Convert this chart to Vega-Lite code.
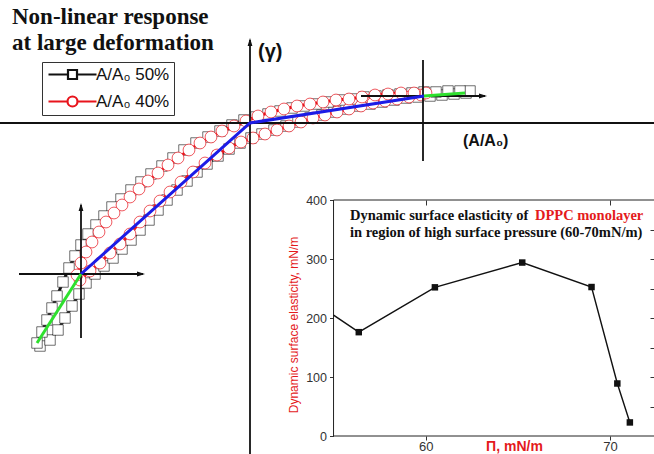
{
"$schema":"https://vega.github.io/schema/vega-lite/v6.json",
"width":654,"height":454,"padding":0,"autosize":{"type":"none"},
"background":"white",
"config":{"view":{"stroke":null},"axis":{"grid":false}},
"datasets":{
"loop":[
{"series":"50%","i":0,"x":-2.10,"y":-2.23},{"series":"50%","i":1,"x":-2.00,"y":-2.17},{"series":"50%","i":2,"x":-1.92,"y":-2.07},{"series":"50%","i":3,"x":-1.85,"y":-1.95},{"series":"50%","i":4,"x":-1.78,"y":-1.83},{"series":"50%","i":5,"x":-1.71,"y":-1.71},{"series":"50%","i":6,"x":-1.64,"y":-1.60},{"series":"50%","i":7,"x":-1.55,"y":-1.51},{"series":"50%","i":8,"x":-1.46,"y":-1.43},{"series":"50%","i":9,"x":-1.37,"y":-1.35},{"series":"50%","i":10,"x":-1.28,"y":-1.26},{"series":"50%","i":11,"x":-1.19,"y":-1.17},{"series":"50%","i":12,"x":-1.10,"y":-1.07},{"series":"50%","i":13,"x":-1.01,"y":-0.97},{"series":"50%","i":14,"x":-0.92,"y":-0.87},{"series":"50%","i":15,"x":-0.83,"y":-0.77},{"series":"50%","i":16,"x":-0.73,"y":-0.67},{"series":"50%","i":17,"x":-0.63,"y":-0.58},{"series":"50%","i":18,"x":-0.53,"y":-0.49},{"series":"50%","i":19,"x":-0.43,"y":-0.41},{"series":"50%","i":20,"x":-0.32,"y":-0.33},{"series":"50%","i":21,"x":-0.21,"y":-0.26},{"series":"50%","i":22,"x":-0.10,"y":-0.20},{"series":"50%","i":23,"x":0.01,"y":-0.15},{"series":"50%","i":24,"x":0.12,"y":-0.11},{"series":"50%","i":25,"x":0.24,"y":-0.07},{"series":"50%","i":26,"x":0.36,"y":-0.03},{"series":"50%","i":27,"x":0.48,"y":0.01},{"series":"50%","i":28,"x":0.60,"y":0.05},{"series":"50%","i":29,"x":0.72,"y":0.08},{"series":"50%","i":30,"x":0.84,"y":0.11},{"series":"50%","i":31,"x":0.96,"y":0.14},{"series":"50%","i":32,"x":1.08,"y":0.17},{"series":"50%","i":33,"x":1.20,"y":0.19},{"series":"50%","i":34,"x":1.32,"y":0.21},{"series":"50%","i":35,"x":1.44,"y":0.23},{"series":"50%","i":36,"x":1.56,"y":0.25},{"series":"50%","i":37,"x":1.68,"y":0.26},{"series":"50%","i":38,"x":1.80,"y":0.27},{"series":"50%","i":39,"x":1.92,"y":0.28},{"series":"50%","i":40,"x":2.04,"y":0.29},{"series":"50%","i":41,"x":2.16,"y":0.30},
{"series":"50%","i":42,"x":2.20,"y":0.32},{"series":"50%","i":43,"x":2.10,"y":0.32},{"series":"50%","i":44,"x":1.98,"y":0.32},{"series":"50%","i":45,"x":1.86,"y":0.31},{"series":"50%","i":46,"x":1.74,"y":0.31},{"series":"50%","i":47,"x":1.62,"y":0.30},{"series":"50%","i":48,"x":1.50,"y":0.29},{"series":"50%","i":49,"x":1.38,"y":0.28},{"series":"50%","i":50,"x":1.26,"y":0.27},{"series":"50%","i":51,"x":1.14,"y":0.26},{"series":"50%","i":52,"x":1.02,"y":0.24},{"series":"50%","i":53,"x":0.90,"y":0.23},{"series":"50%","i":54,"x":0.78,"y":0.21},{"series":"50%","i":55,"x":0.66,"y":0.19},{"series":"50%","i":56,"x":0.54,"y":0.17},{"series":"50%","i":57,"x":0.42,"y":0.15},{"series":"50%","i":58,"x":0.30,"y":0.12},{"series":"50%","i":59,"x":0.18,"y":0.09},{"series":"50%","i":60,"x":0.06,"y":0.06},{"series":"50%","i":61,"x":-0.06,"y":0.03},{"series":"50%","i":62,"x":-0.18,"y":-0.02},{"series":"50%","i":63,"x":-0.30,"y":-0.08},{"series":"50%","i":64,"x":-0.42,"y":-0.14},{"series":"50%","i":65,"x":-0.54,"y":-0.20},{"series":"50%","i":66,"x":-0.66,"y":-0.27},{"series":"50%","i":67,"x":-0.77,"y":-0.35},{"series":"50%","i":68,"x":-0.88,"y":-0.43},{"series":"50%","i":69,"x":-0.99,"y":-0.51},{"series":"50%","i":70,"x":-1.09,"y":-0.59},{"series":"50%","i":71,"x":-1.19,"y":-0.67},{"series":"50%","i":72,"x":-1.29,"y":-0.76},{"series":"50%","i":73,"x":-1.38,"y":-0.84},{"series":"50%","i":74,"x":-1.46,"y":-0.93},{"series":"50%","i":75,"x":-1.54,"y":-1.02},{"series":"50%","i":76,"x":-1.62,"y":-1.11},{"series":"50%","i":77,"x":-1.69,"y":-1.22},{"series":"50%","i":78,"x":-1.75,"y":-1.33},{"series":"50%","i":79,"x":-1.81,"y":-1.45},{"series":"50%","i":80,"x":-1.87,"y":-1.59},{"series":"50%","i":81,"x":-1.93,"y":-1.73},{"series":"50%","i":82,"x":-1.98,"y":-1.85},{"series":"50%","i":83,"x":-2.03,"y":-1.97},{"series":"50%","i":84,"x":-2.08,"y":-2.09},{"series":"50%","i":85,"x":-2.13,"y":-2.20},
{"series":"40%","i":0,"x":-1.70,"y":-1.57},{"series":"40%","i":1,"x":-1.60,"y":-1.48},{"series":"40%","i":2,"x":-1.50,"y":-1.40},{"series":"40%","i":3,"x":-1.40,"y":-1.30},{"series":"40%","i":4,"x":-1.30,"y":-1.21},{"series":"40%","i":5,"x":-1.20,"y":-1.11},{"series":"40%","i":6,"x":-1.10,"y":-0.99},{"series":"40%","i":7,"x":-1.00,"y":-0.88},{"series":"40%","i":8,"x":-0.90,"y":-0.78},{"series":"40%","i":9,"x":-0.80,"y":-0.69},{"series":"40%","i":10,"x":-0.69,"y":-0.59},{"series":"40%","i":11,"x":-0.57,"y":-0.49},{"series":"40%","i":12,"x":-0.45,"y":-0.40},{"series":"40%","i":13,"x":-0.33,"y":-0.32},{"series":"40%","i":14,"x":-0.21,"y":-0.25},{"series":"40%","i":15,"x":-0.09,"y":-0.19},{"series":"40%","i":16,"x":0.03,"y":-0.15},{"series":"40%","i":17,"x":0.15,"y":-0.11},{"series":"40%","i":18,"x":0.27,"y":-0.07},{"series":"40%","i":19,"x":0.39,"y":-0.03},{"series":"40%","i":20,"x":0.51,"y":0.01},{"series":"40%","i":21,"x":0.63,"y":0.05},{"series":"40%","i":22,"x":0.75,"y":0.08},{"series":"40%","i":23,"x":0.87,"y":0.11},{"series":"40%","i":24,"x":0.99,"y":0.14},{"series":"40%","i":25,"x":1.11,"y":0.17},{"series":"40%","i":26,"x":1.23,"y":0.20},{"series":"40%","i":27,"x":1.35,"y":0.22},{"series":"40%","i":28,"x":1.47,"y":0.24},{"series":"40%","i":29,"x":1.59,"y":0.26},{"series":"40%","i":30,"x":1.71,"y":0.28},
{"series":"40%","i":31,"x":1.76,"y":0.30},{"series":"40%","i":32,"x":1.64,"y":0.30},{"series":"40%","i":33,"x":1.51,"y":0.30},{"series":"40%","i":34,"x":1.38,"y":0.29},{"series":"40%","i":35,"x":1.25,"y":0.28},{"series":"40%","i":36,"x":1.12,"y":0.26},{"series":"40%","i":37,"x":0.99,"y":0.24},{"series":"40%","i":38,"x":0.86,"y":0.23},{"series":"40%","i":39,"x":0.73,"y":0.21},{"series":"40%","i":40,"x":0.60,"y":0.19},{"series":"40%","i":41,"x":0.47,"y":0.17},{"series":"40%","i":42,"x":0.34,"y":0.14},{"series":"40%","i":43,"x":0.21,"y":0.11},{"series":"40%","i":44,"x":0.08,"y":0.07},{"series":"40%","i":45,"x":-0.04,"y":0.02},{"series":"40%","i":46,"x":-0.16,"y":-0.03},{"series":"40%","i":47,"x":-0.28,"y":-0.08},{"series":"40%","i":48,"x":-0.39,"y":-0.14},{"series":"40%","i":49,"x":-0.50,"y":-0.20},{"series":"40%","i":50,"x":-0.61,"y":-0.27},{"series":"40%","i":51,"x":-0.72,"y":-0.35},{"series":"40%","i":52,"x":-0.82,"y":-0.42},{"series":"40%","i":53,"x":-0.92,"y":-0.50},{"series":"40%","i":54,"x":-1.02,"y":-0.58},{"series":"40%","i":55,"x":-1.11,"y":-0.66},{"series":"40%","i":56,"x":-1.20,"y":-0.74},{"series":"40%","i":57,"x":-1.28,"y":-0.82},{"series":"40%","i":58,"x":-1.36,"y":-0.90},{"series":"40%","i":59,"x":-1.44,"y":-0.99},{"series":"40%","i":60,"x":-1.51,"y":-1.09},{"series":"40%","i":61,"x":-1.58,"y":-1.19},{"series":"40%","i":62,"x":-1.64,"y":-1.29},{"series":"40%","i":63,"x":-1.69,"y":-1.40},{"series":"40%","i":64,"x":-1.73,"y":-1.52}
],
"segments":[
{"x":-2.5,"y":0,"x2":4.04,"y2":0},
{"x":0,"y":-3.31,"x2":0,"y2":0.83},
{"x":1.11,"y":0.27,"x2":2.35,"y2":0.27},
{"x":1.73,"y":0.63,"x2":1.73,"y2":-0.38},
{"x":-2.31,"y":-1.51,"x2":-1.07,"y2":-1.51},
{"x":-1.69,"y":-0.82,"x2":-1.69,"y2":-2.15}
],
"arrows":[
{"x":0,"y":0.85,"dir":"up"},
{"x":-1.69,"y":-0.80,"dir":"up"},
{"x":2.37,"y":0.27,"dir":"right"},
{"x":-1.05,"y":-1.51,"dir":"right"}
],
"fits":[
{"seg":"low","regime":"linear","i":0,"x":-1.69,"y":-1.51},
{"seg":"low","regime":"linear","i":1,"x":0,"y":0},
{"seg":"low","regime":"linear","i":2,"x":1.74,"y":0.27},
{"seg":"left","regime":"nonlinear","i":0,"x":-2.13,"y":-2.20},
{"seg":"left","regime":"nonlinear","i":1,"x":-1.69,"y":-1.51},
{"seg":"right","regime":"nonlinear","i":0,"x":1.74,"y":0.27},
{"seg":"right","regime":"nonlinear","i":1,"x":2.15,"y":0.30}
],
"inset":[
{"pi":55.0,"E":205},
{"pi":56.37,"E":176},
{"pi":60.5,"E":252},
{"pi":65.24,"E":294},
{"pi":69.0,"E":252.5},
{"pi":70.4,"E":89},
{"pi":71.08,"E":23}
]
},
"layer":[
{
"layer":[
{"data":{"name":"loop"},"transform":[{"filter":"datum.series === '50%'"}],
 "mark":{"type":"line","strokeWidth":3},
 "encoding":{
  "x":{"field":"x","type":"quantitative","scale":{"domain":[-2.5,4.04],"nice":false,"zero":false},"axis":null},
  "y":{"field":"y","type":"quantitative","scale":{"domain":[-3.31,1.23],"nice":false,"zero":false},"axis":null},
  "order":{"field":"i"},
  "color":{"field":"series","type":"nominal","scale":{"domain":["50%","40%"],"range":["#111111","#e8141c"]},
   "legend":{"orient":"none","legendX":42,"legendY":62,"title":null,"direction":"vertical","padding":4,"strokeColor":"#333333","fillColor":"white","labelFont":"Liberation Sans","labelFontSize":17,"labelColor":"#111111","labelExpr":"'A/A₀ ' + datum.label","symbolSize":100,"symbolOffset":18,"labelOffset":15,"rowPadding":8,"symbolStrokeWidth":2.2}}
 }},
{"data":{"name":"loop"},"transform":[{"filter":"datum.series === '50%'"}],
 "mark":{"type":"point","shape":"square","filled":false,"fill":"white","fillOpacity":1,"strokeWidth":1,"strokeOpacity":0.6,"size":110},
 "encoding":{
  "x":{"field":"x","type":"quantitative","scale":{"domain":[-2.5,4.04],"nice":false,"zero":false},"axis":null},
  "y":{"field":"y","type":"quantitative","scale":{"domain":[-3.31,1.23],"nice":false,"zero":false},"axis":null},
  "color":{"field":"series","type":"nominal","scale":{"domain":["50%","40%"],"range":["#111111","#e8141c"]}}
 }},
{"data":{"name":"loop"},"transform":[{"filter":"datum.series === '40%'"}],
 "mark":{"type":"line","strokeWidth":3},
 "encoding":{
  "x":{"field":"x","type":"quantitative","scale":{"domain":[-2.5,4.04],"nice":false,"zero":false},"axis":null},
  "y":{"field":"y","type":"quantitative","scale":{"domain":[-3.31,1.23],"nice":false,"zero":false},"axis":null},
  "order":{"field":"i"},
  "color":{"field":"series","type":"nominal","scale":{"domain":["50%","40%"],"range":["#111111","#e8141c"]}}
 }},
{"data":{"name":"loop"},"transform":[{"filter":"datum.series === '40%'"}],
 "mark":{"type":"point","shape":"circle","filled":false,"fill":"white","fillOpacity":1,"strokeWidth":1,"strokeOpacity":0.7,"size":140},
 "encoding":{
  "x":{"field":"x","type":"quantitative","scale":{"domain":[-2.5,4.04],"nice":false,"zero":false},"axis":null},
  "y":{"field":"y","type":"quantitative","scale":{"domain":[-3.31,1.23],"nice":false,"zero":false},"axis":null},
  "color":{"field":"series","type":"nominal","scale":{"domain":["50%","40%"],"range":["#111111","#e8141c"]}}
 }},
{"data":{"name":"loop"},"transform":[{"filter":"datum.i < 0"}],
 "mark":{"type":"point","filled":false,"strokeWidth":2.2},
 "encoding":{
  "x":{"field":"x","type":"quantitative","scale":{"domain":[-2.5,4.04],"nice":false,"zero":false},"axis":null},
  "y":{"field":"y","type":"quantitative","scale":{"domain":[-3.31,1.23],"nice":false,"zero":false},"axis":null},
  "color":{"field":"series","type":"nominal","scale":{"domain":["50%","40%"],"range":["#111111","#e8141c"]}},
  "shape":{"field":"series","type":"nominal","scale":{"domain":["50%","40%"],"range":["M-4.8,0H-0.9M0.9,0H4.8M-0.9,-0.9H0.9V0.9H-0.9Z","M-4.8,0H-1M1,0H4.8M-1,0A1,1,0,1,1,1,0A1,1,0,1,1,-1,0Z"]},
   "legend":{"orient":"none","legendX":42,"legendY":62,"title":null,"direction":"vertical","padding":4,"strokeColor":"#333333","fillColor":"white","labelFont":"Liberation Sans","labelFontSize":17,"labelColor":"#111111","labelExpr":"'A/A₀ ' + datum.label","symbolSize":100,"symbolOffset":18,"labelOffset":15,"rowPadding":8,"symbolStrokeWidth":2.2}}
 }},
{"data":{"name":"segments"},
 "mark":{"type":"rule","color":"#111111","strokeWidth":1.8},
 "encoding":{
  "x":{"field":"x","type":"quantitative","scale":{"domain":[-2.5,4.04],"nice":false,"zero":false},"axis":null},
  "x2":{"field":"x2"},
  "y":{"field":"y","type":"quantitative","scale":{"domain":[-3.31,1.23],"nice":false,"zero":false},"axis":null},
  "y2":{"field":"y2"}
 }},
{"data":{"name":"arrows"},"transform":[{"filter":"datum.dir === 'up'"}],
 "mark":{"type":"point","shape":"M0,0L-0.6,2L0.6,2Z","filled":true,"color":"#111111","opacity":1,"size":64},
 "encoding":{
  "x":{"field":"x","type":"quantitative","scale":{"domain":[-2.5,4.04],"nice":false,"zero":false},"axis":null},
  "y":{"field":"y","type":"quantitative","scale":{"domain":[-3.31,1.23],"nice":false,"zero":false},"axis":null}
 }},
{"data":{"name":"arrows"},"transform":[{"filter":"datum.dir === 'right'"}],
 "mark":{"type":"point","shape":"M0,0L-2,-0.6L-2,0.6Z","filled":true,"color":"#111111","opacity":1,"size":64},
 "encoding":{
  "x":{"field":"x","type":"quantitative","scale":{"domain":[-2.5,4.04],"nice":false,"zero":false},"axis":null},
  "y":{"field":"y","type":"quantitative","scale":{"domain":[-3.31,1.23],"nice":false,"zero":false},"axis":null}
 }},
{"data":{"name":"fits"},
 "mark":{"type":"line","strokeWidth":3},
 "encoding":{
  "x":{"field":"x","type":"quantitative","scale":{"domain":[-2.5,4.04],"nice":false,"zero":false},"axis":null},
  "y":{"field":"y","type":"quantitative","scale":{"domain":[-3.31,1.23],"nice":false,"zero":false},"axis":null},
  "detail":{"field":"seg"},
  "order":{"field":"i"},
  "stroke":{"field":"regime","type":"nominal","scale":{"domain":["linear","nonlinear"],"range":["#1c1ce6","#2ee02e"]},"legend":null}
 }},
{"data":{"values":[{}]},
 "mark":{"type":"text","text":"Non-linear response","font":"Liberation Serif","fontWeight":"bold","fontSize":23,"align":"left","baseline":"alphabetic","color":"#111111"},
 "encoding":{
  "x":{"datum":-2.38,"type":"quantitative","scale":{"domain":[-2.5,4.04],"nice":false,"zero":false},"axis":null},
  "y":{"datum":0.99,"type":"quantitative","scale":{"domain":[-3.31,1.23],"nice":false,"zero":false},"axis":null}
 }},
{"data":{"values":[{}]},
 "mark":{"type":"text","text":"at large deformation","font":"Liberation Serif","fontWeight":"bold","fontSize":23,"align":"left","baseline":"alphabetic","color":"#111111"},
 "encoding":{
  "x":{"datum":-2.38,"type":"quantitative","scale":{"domain":[-2.5,4.04],"nice":false,"zero":false},"axis":null},
  "y":{"datum":0.73,"type":"quantitative","scale":{"domain":[-3.31,1.23],"nice":false,"zero":false},"axis":null}
 }},
{"data":{"values":[{}]},
 "mark":{"type":"text","text":"(γ)","font":"Liberation Sans","fontWeight":"bold","fontSize":20,"align":"left","baseline":"alphabetic","color":"#111111"},
 "encoding":{
  "x":{"datum":0.08,"type":"quantitative","scale":{"domain":[-2.5,4.04],"nice":false,"zero":false},"axis":null},
  "y":{"datum":0.65,"type":"quantitative","scale":{"domain":[-3.31,1.23],"nice":false,"zero":false},"axis":null}
 }},
{"data":{"values":[{}]},
 "mark":{"type":"text","text":"(A/A₀)","font":"Liberation Sans","fontWeight":"bold","fontSize":16,"align":"left","baseline":"alphabetic","color":"#111111"},
 "encoding":{
  "x":{"datum":2.13,"type":"quantitative","scale":{"domain":[-2.5,4.04],"nice":false,"zero":false},"axis":null},
  "y":{"datum":-0.23,"type":"quantitative","scale":{"domain":[-3.31,1.23],"nice":false,"zero":false},"axis":null}
 }}
]
},
{
"layer":[
{"data":{"values":[{}]},
 "mark":{"type":"rule","color":"#222222","strokeWidth":1},
 "encoding":{
  "x":{"datum":55,"type":"quantitative","scale":{"domain":[36.9,72.39],"nice":false,"zero":false},"axis":null},
  "y":{"datum":0,"type":"quantitative","scale":{"domain":[-30.5,739],"nice":false,"zero":false},"axis":null},
  "y2":{"datum":400}
 }},
{"data":{"values":[{}]},
 "mark":{"type":"rule","color":"#222222","strokeWidth":1},
 "encoding":{
  "x":{"datum":55,"type":"quantitative","scale":{"domain":[36.9,72.39],"nice":false,"zero":false},"axis":null},
  "x2":{"datum":72.4},
  "y":{"datum":0,"type":"quantitative","scale":{"domain":[-30.5,739],"nice":false,"zero":false},"axis":null}
 }},
{"data":{"values":[{}]},
 "mark":{"type":"rule","color":"#222222","strokeWidth":1},
 "encoding":{
  "x":{"datum":55,"type":"quantitative","scale":{"domain":[36.9,72.39],"nice":false,"zero":false},"axis":null},
  "x2":{"datum":72.4},
  "y":{"datum":400,"type":"quantitative","scale":{"domain":[-30.5,739],"nice":false,"zero":false},"axis":null}
 }},
{"data":{"name":"inset"},
 "mark":{"type":"line","color":"#111111","strokeWidth":1.4},
 "encoding":{
  "x":{"field":"pi","type":"quantitative","scale":{"domain":[36.9,72.39],"nice":false,"zero":false},"axis":null},
  "y":{"field":"E","type":"quantitative","scale":{"domain":[-30.5,739],"nice":false,"zero":false},"axis":null}
 }},
{"data":{"name":"inset"},"transform":[{"filter":"datum.pi > 55.5"}],
 "mark":{"type":"point","shape":"square","filled":true,"color":"#111111","opacity":1,"size":42},
 "encoding":{
  "x":{"field":"pi","type":"quantitative","scale":{"domain":[36.9,72.39],"nice":false,"zero":false},"axis":null},
  "y":{"field":"E","type":"quantitative","scale":{"domain":[-30.5,739],"nice":false,"zero":false},"axis":null}
 }},
{"data":{"values":[{}]},
 "mark":{"type":"text","text":"Dynamic surface elasticity of ","font":"Liberation Serif","fontWeight":"bold","fontSize":14.5,"align":"left","baseline":"alphabetic","color":"#111111"},
 "encoding":{
  "x":{"datum":55.89,"type":"quantitative","scale":{"domain":[36.9,72.39],"nice":false,"zero":false},"axis":null},
  "y":{"datum":366,"type":"quantitative","scale":{"domain":[-30.5,739],"nice":false,"zero":false},"axis":null}
 }},
{"data":{"values":[{}]},
 "mark":{"type":"text","text":"DPPC monolayer","font":"Liberation Serif","fontWeight":"bold","fontSize":14.5,"align":"left","baseline":"alphabetic","color":"#e41a1c"},
 "encoding":{
  "x":{"datum":65.93,"type":"quantitative","scale":{"domain":[36.9,72.39],"nice":false,"zero":false},"axis":null},
  "y":{"datum":366,"type":"quantitative","scale":{"domain":[-30.5,739],"nice":false,"zero":false},"axis":null}
 }},
{"data":{"values":[{}]},
 "mark":{"type":"text","text":"in region of high surface pressure (60-70mN/m)","font":"Liberation Serif","fontWeight":"bold","fontSize":14.5,"align":"left","baseline":"alphabetic","color":"#111111"},
 "encoding":{
  "x":{"datum":55.89,"type":"quantitative","scale":{"domain":[36.9,72.39],"nice":false,"zero":false},"axis":null},
  "y":{"datum":337.3,"type":"quantitative","scale":{"domain":[-30.5,739],"nice":false,"zero":false},"axis":null}
 }}
]
},
{"data":{"name":"inset"},
 "mark":{"type":"point","opacity":0},
 "encoding":{
  "x":{"field":"pi","type":"quantitative","scale":{"domain":[36.9,72.39],"nice":false,"zero":false},
   "axis":{"orient":"bottom","offset":-18,"values":[60,70],"domain":false,"ticks":true,"tickSize":4,"tickColor":"#333333","labelFont":"Liberation Sans","labelFontSize":13,"labelColor":"#333333","labelBaseline":"alphabetic","labelPadding":10,
    "title":"Π, mN/m","titleFont":"Liberation Sans","titleFontSize":14,"titleFontWeight":"bold","titleColor":"#e41a1c","titleX":514,"titleY":14,"titleBaseline":"alphabetic","titleAlign":"center"}},
  "y":{"field":"E","type":"quantitative","scale":{"domain":[-30.5,739],"nice":false,"zero":false},
   "axis":{"orient":"left","offset":-333.5,"values":[0,100,200,300,400],"domain":false,"ticks":true,"tickSize":4,"tickColor":"#333333","labelFont":"Liberation Sans","labelFontSize":12.5,"labelColor":"#333333","labelPadding":3,
    "title":"Dynamic surface elasticity, mN/m","titleFont":"Liberation Sans","titleFontSize":12,"titleFontWeight":"normal","titleColor":"#e41a1c","titleX":-36.5,"titleY":324.5,"titleAngle":-90,"titleBaseline":"alphabetic","titleAlign":"center"}}
 }},
{"data":{"name":"inset"},
 "mark":{"type":"point","opacity":0},
 "encoding":{
  "x":{"field":"pi","type":"quantitative","scale":{"domain":[36.9,72.39],"nice":false,"zero":false},
   "axis":{"orient":"top","offset":-205,"values":[60,70],"labels":false,"domain":false,"tickSize":5,"tickColor":"#333333","title":null}},
  "y":{"field":"E","type":"quantitative","scale":{"domain":[-30.5,739],"nice":false,"zero":false},
   "axis":{"orient":"right","offset":-4,"values":[50,100,150,200,250,300,350],"labels":false,"domain":false,"tickSize":4,"tickColor":"#333333","title":null}}
 }}
],
"resolve":{"scale":{"x":"independent","y":"independent"},"axis":{"x":"independent","y":"independent"}}
}
